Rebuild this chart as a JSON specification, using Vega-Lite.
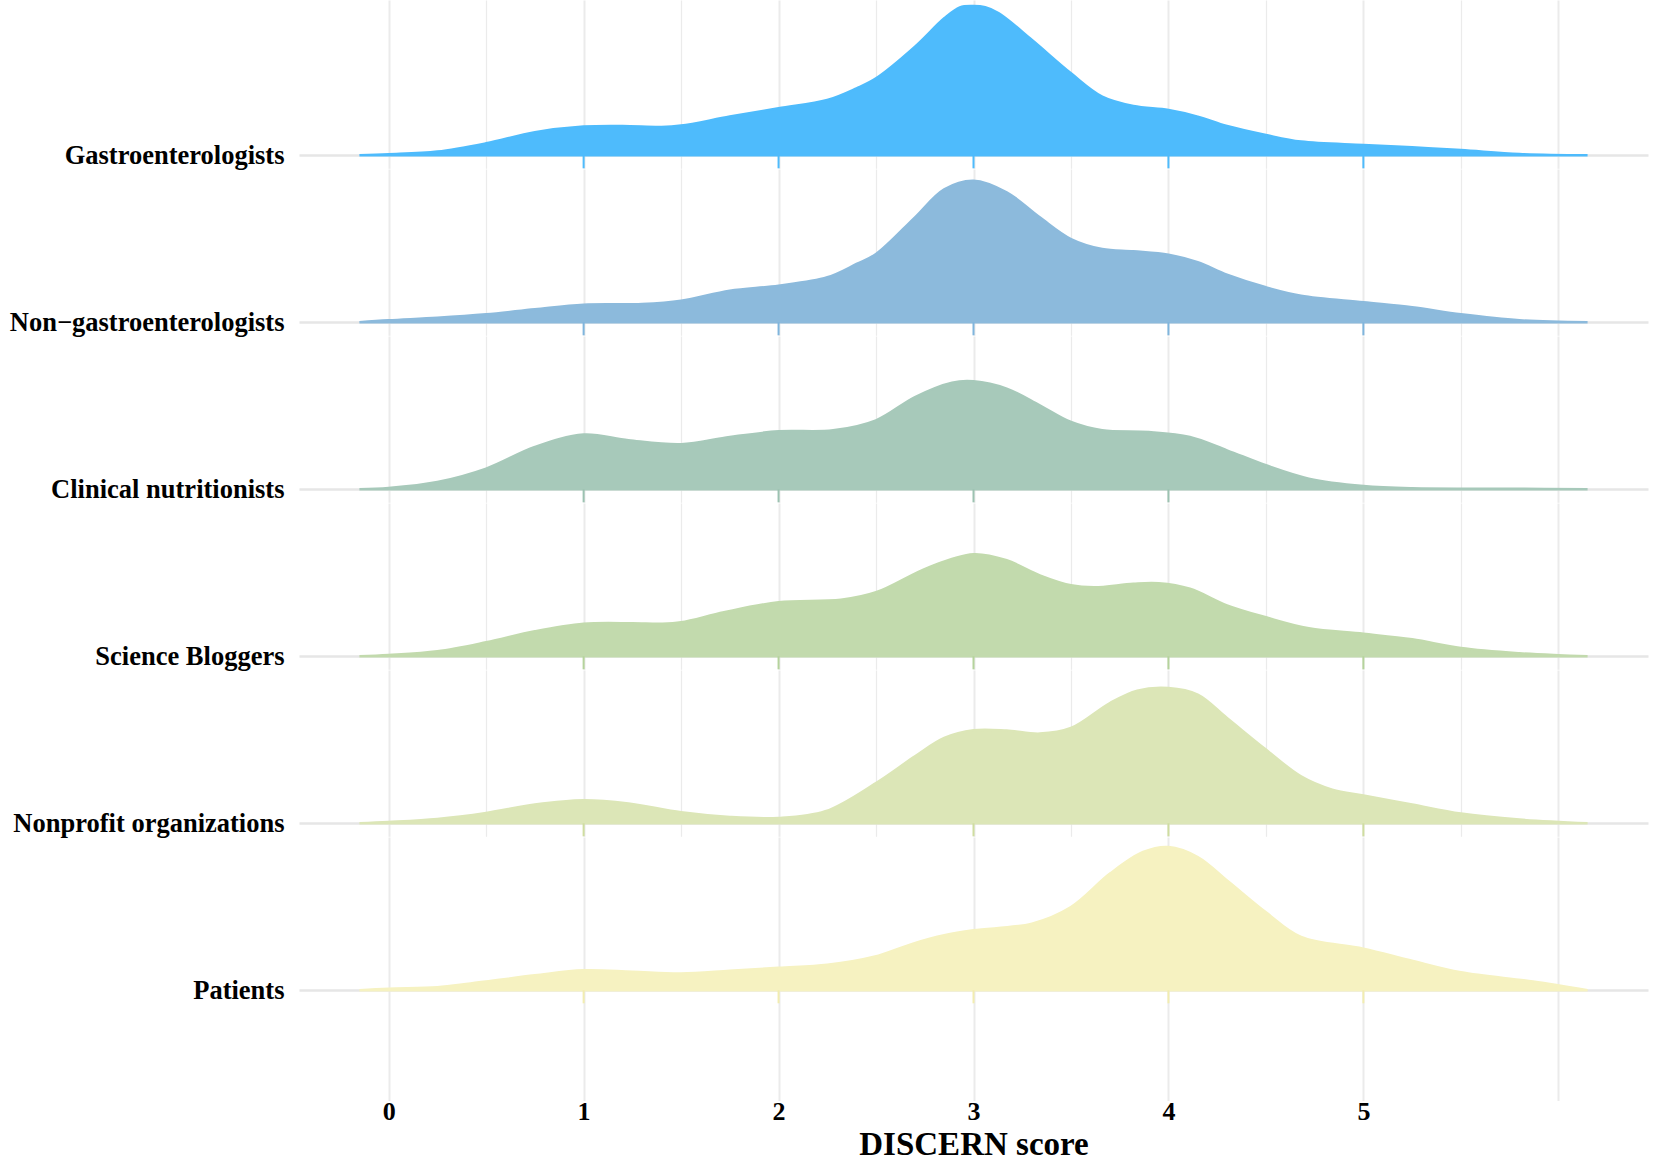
{
  "$schema": "https://vega.github.io/schema/vega-lite/v6.json",
  "padding": {"left": 9, "top": 0, "right": 6, "bottom": 2},
  "spacing": 0,
  "bounds": "flush",
  "config": {
    "view": {"stroke": null},
    "axis": {"labelFont": "Liberation Serif", "labelFontWeight": "bold", "labelColor": "#000000", "titleFont": "Liberation Serif", "titleFontWeight": "bold", "titleColor": "#000000", "domain": false, "ticks": false, "gridColor": "#EBEBEB"},
    "axisX": {"gridWidth": {"condition": {"test": "datum.value % 1 === 0", "value": 2}, "value": 1.2}, "labelFontSize": 26, "titleFontSize": 33, "labelPadding": -2, "titlePadding": 4},
    "axisY": {"gridWidth": 2.5, "gridColor": "#E6E6E6", "labelFontSize": 26.5, "labelPadding": 15, "labelBaseline": "middle", "labelLimit": 600}
  },
  "datasets": {
    "dens": [
      {"group": "Gastroenterologists", "score": -0.15, "density": 0},
      {"group": "Gastroenterologists", "score": 0, "density": 0.01},
      {"group": "Gastroenterologists", "score": 0.25, "density": 0.037},
      {"group": "Gastroenterologists", "score": 0.5, "density": 0.12},
      {"group": "Gastroenterologists", "score": 0.75, "density": 0.23},
      {"group": "Gastroenterologists", "score": 1.0, "density": 0.287},
      {"group": "Gastroenterologists", "score": 1.2, "density": 0.293},
      {"group": "Gastroenterologists", "score": 1.4, "density": 0.283},
      {"group": "Gastroenterologists", "score": 1.5, "density": 0.297},
      {"group": "Gastroenterologists", "score": 1.75, "density": 0.387},
      {"group": "Gastroenterologists", "score": 2.0, "density": 0.47},
      {"group": "Gastroenterologists", "score": 2.25, "density": 0.553},
      {"group": "Gastroenterologists", "score": 2.4, "density": 0.67},
      {"group": "Gastroenterologists", "score": 2.5, "density": 0.77},
      {"group": "Gastroenterologists", "score": 2.7, "density": 1.087},
      {"group": "Gastroenterologists", "score": 2.85, "density": 1.37},
      {"group": "Gastroenterologists", "score": 2.93, "density": 1.48},
      {"group": "Gastroenterologists", "score": 3.0, "density": 1.493},
      {"group": "Gastroenterologists", "score": 3.06, "density": 1.48},
      {"group": "Gastroenterologists", "score": 3.13, "density": 1.42},
      {"group": "Gastroenterologists", "score": 3.3, "density": 1.153},
      {"group": "Gastroenterologists", "score": 3.5, "density": 0.82},
      {"group": "Gastroenterologists", "score": 3.66, "density": 0.587},
      {"group": "Gastroenterologists", "score": 3.82, "density": 0.493},
      {"group": "Gastroenterologists", "score": 4.0, "density": 0.453},
      {"group": "Gastroenterologists", "score": 4.15, "density": 0.387},
      {"group": "Gastroenterologists", "score": 4.3, "density": 0.293},
      {"group": "Gastroenterologists", "score": 4.5, "density": 0.203},
      {"group": "Gastroenterologists", "score": 4.68, "density": 0.137},
      {"group": "Gastroenterologists", "score": 5.0, "density": 0.103},
      {"group": "Gastroenterologists", "score": 5.25, "density": 0.08},
      {"group": "Gastroenterologists", "score": 5.5, "density": 0.053},
      {"group": "Gastroenterologists", "score": 5.8, "density": 0.013},
      {"group": "Gastroenterologists", "score": 6.15, "density": 0},

      {"group": "Non−gastroenterologists", "score": -0.15, "density": 0},
      {"group": "Non−gastroenterologists", "score": 0, "density": 0.02},
      {"group": "Non−gastroenterologists", "score": 0.25, "density": 0.045},
      {"group": "Non−gastroenterologists", "score": 0.5, "density": 0.08},
      {"group": "Non−gastroenterologists", "score": 0.75, "density": 0.13},
      {"group": "Non−gastroenterologists", "score": 1.0, "density": 0.176},
      {"group": "Non−gastroenterologists", "score": 1.3, "density": 0.183},
      {"group": "Non−gastroenterologists", "score": 1.5, "density": 0.216},
      {"group": "Non−gastroenterologists", "score": 1.75, "density": 0.316},
      {"group": "Non−gastroenterologists", "score": 2.0, "density": 0.366},
      {"group": "Non−gastroenterologists", "score": 2.25, "density": 0.45},
      {"group": "Non−gastroenterologists", "score": 2.4, "density": 0.583},
      {"group": "Non−gastroenterologists", "score": 2.5, "density": 0.683},
      {"group": "Non−gastroenterologists", "score": 2.7, "density": 1.05},
      {"group": "Non−gastroenterologists", "score": 2.85, "density": 1.33},
      {"group": "Non−gastroenterologists", "score": 3.0, "density": 1.416},
      {"group": "Non−gastroenterologists", "score": 3.17, "density": 1.3},
      {"group": "Non−gastroenterologists", "score": 3.34, "density": 1.05},
      {"group": "Non−gastroenterologists", "score": 3.5, "density": 0.833},
      {"group": "Non−gastroenterologists", "score": 3.66, "density": 0.733},
      {"group": "Non−gastroenterologists", "score": 3.82, "density": 0.71},
      {"group": "Non−gastroenterologists", "score": 4.0, "density": 0.676},
      {"group": "Non−gastroenterologists", "score": 4.15, "density": 0.6},
      {"group": "Non−gastroenterologists", "score": 4.3, "density": 0.476},
      {"group": "Non−gastroenterologists", "score": 4.5, "density": 0.35},
      {"group": "Non−gastroenterologists", "score": 4.68, "density": 0.266},
      {"group": "Non−gastroenterologists", "score": 5.0, "density": 0.2},
      {"group": "Non−gastroenterologists", "score": 5.25, "density": 0.15},
      {"group": "Non−gastroenterologists", "score": 5.5, "density": 0.08},
      {"group": "Non−gastroenterologists", "score": 5.8, "density": 0.02},
      {"group": "Non−gastroenterologists", "score": 6.15, "density": 0},

      {"group": "Clinical nutritionists", "score": -0.15, "density": 0},
      {"group": "Clinical nutritionists", "score": 0, "density": 0.013},
      {"group": "Clinical nutritionists", "score": 0.25, "density": 0.073},
      {"group": "Clinical nutritionists", "score": 0.5, "density": 0.207},
      {"group": "Clinical nutritionists", "score": 0.75, "density": 0.423},
      {"group": "Clinical nutritionists", "score": 1.0, "density": 0.547},
      {"group": "Clinical nutritionists", "score": 1.23, "density": 0.49},
      {"group": "Clinical nutritionists", "score": 1.5, "density": 0.45},
      {"group": "Clinical nutritionists", "score": 1.75, "density": 0.523},
      {"group": "Clinical nutritionists", "score": 2.0, "density": 0.58},
      {"group": "Clinical nutritionists", "score": 2.28, "density": 0.59},
      {"group": "Clinical nutritionists", "score": 2.5, "density": 0.69},
      {"group": "Clinical nutritionists", "score": 2.7, "density": 0.923},
      {"group": "Clinical nutritionists", "score": 2.89, "density": 1.067},
      {"group": "Clinical nutritionists", "score": 3.0, "density": 1.08},
      {"group": "Clinical nutritionists", "score": 3.17, "density": 1.007},
      {"group": "Clinical nutritionists", "score": 3.34, "density": 0.84},
      {"group": "Clinical nutritionists", "score": 3.5, "density": 0.673},
      {"group": "Clinical nutritionists", "score": 3.66, "density": 0.59},
      {"group": "Clinical nutritionists", "score": 3.9, "density": 0.573},
      {"group": "Clinical nutritionists", "score": 4.11, "density": 0.523},
      {"group": "Clinical nutritionists", "score": 4.3, "density": 0.39},
      {"group": "Clinical nutritionists", "score": 4.5, "density": 0.24},
      {"group": "Clinical nutritionists", "score": 4.72, "density": 0.107},
      {"group": "Clinical nutritionists", "score": 5.0, "density": 0.033},
      {"group": "Clinical nutritionists", "score": 5.25, "density": 0.01},
      {"group": "Clinical nutritionists", "score": 5.8, "density": 0.006},
      {"group": "Clinical nutritionists", "score": 6.15, "density": 0},

      {"group": "Science Bloggers", "score": -0.15, "density": 0},
      {"group": "Science Bloggers", "score": 0, "density": 0.013},
      {"group": "Science Bloggers", "score": 0.25, "density": 0.05},
      {"group": "Science Bloggers", "score": 0.5, "density": 0.14},
      {"group": "Science Bloggers", "score": 0.75, "density": 0.25},
      {"group": "Science Bloggers", "score": 1.0, "density": 0.325},
      {"group": "Science Bloggers", "score": 1.25, "density": 0.33},
      {"group": "Science Bloggers", "score": 1.4, "density": 0.325},
      {"group": "Science Bloggers", "score": 1.5, "density": 0.34},
      {"group": "Science Bloggers", "score": 1.72, "density": 0.44},
      {"group": "Science Bloggers", "score": 2.0, "density": 0.54},
      {"group": "Science Bloggers", "score": 2.32, "density": 0.565},
      {"group": "Science Bloggers", "score": 2.5, "density": 0.64},
      {"group": "Science Bloggers", "score": 2.77, "density": 0.89},
      {"group": "Science Bloggers", "score": 3.0, "density": 1.02},
      {"group": "Science Bloggers", "score": 3.17, "density": 0.96},
      {"group": "Science Bloggers", "score": 3.34, "density": 0.81},
      {"group": "Science Bloggers", "score": 3.5, "density": 0.71},
      {"group": "Science Bloggers", "score": 3.62, "density": 0.69},
      {"group": "Science Bloggers", "score": 3.82, "density": 0.725},
      {"group": "Science Bloggers", "score": 3.95, "density": 0.73},
      {"group": "Science Bloggers", "score": 4.11, "density": 0.675},
      {"group": "Science Bloggers", "score": 4.3, "density": 0.51},
      {"group": "Science Bloggers", "score": 4.5, "density": 0.39},
      {"group": "Science Bloggers", "score": 4.72, "density": 0.28},
      {"group": "Science Bloggers", "score": 5.0, "density": 0.225},
      {"group": "Science Bloggers", "score": 5.25, "density": 0.17},
      {"group": "Science Bloggers", "score": 5.5, "density": 0.083},
      {"group": "Science Bloggers", "score": 5.8, "density": 0.03},
      {"group": "Science Bloggers", "score": 6.0, "density": 0.01},
      {"group": "Science Bloggers", "score": 6.15, "density": 0},

      {"group": "Nonprofit organizations", "score": -0.15, "density": 0},
      {"group": "Nonprofit organizations", "score": 0, "density": 0.013},
      {"group": "Nonprofit organizations", "score": 0.25, "density": 0.043},
      {"group": "Nonprofit organizations", "score": 0.5, "density": 0.103},
      {"group": "Nonprofit organizations", "score": 0.75, "density": 0.187},
      {"group": "Nonprofit organizations", "score": 1.0, "density": 0.23},
      {"group": "Nonprofit organizations", "score": 1.23, "density": 0.197},
      {"group": "Nonprofit organizations", "score": 1.5, "density": 0.11},
      {"group": "Nonprofit organizations", "score": 1.75, "density": 0.063},
      {"group": "Nonprofit organizations", "score": 2.0, "density": 0.053},
      {"group": "Nonprofit organizations", "score": 2.24, "density": 0.12},
      {"group": "Nonprofit organizations", "score": 2.5, "density": 0.403},
      {"group": "Nonprofit organizations", "score": 2.7, "density": 0.67},
      {"group": "Nonprofit organizations", "score": 2.85, "density": 0.853},
      {"group": "Nonprofit organizations", "score": 3.0, "density": 0.93},
      {"group": "Nonprofit organizations", "score": 3.17, "density": 0.927},
      {"group": "Nonprofit organizations", "score": 3.34, "density": 0.897},
      {"group": "Nonprofit organizations", "score": 3.5, "density": 0.953},
      {"group": "Nonprofit organizations", "score": 3.7, "density": 1.203},
      {"group": "Nonprofit organizations", "score": 3.84, "density": 1.327},
      {"group": "Nonprofit organizations", "score": 4.0, "density": 1.353},
      {"group": "Nonprofit organizations", "score": 4.15, "density": 1.287},
      {"group": "Nonprofit organizations", "score": 4.3, "density": 1.053},
      {"group": "Nonprofit organizations", "score": 4.5, "density": 0.737},
      {"group": "Nonprofit organizations", "score": 4.68, "density": 0.47},
      {"group": "Nonprofit organizations", "score": 4.84, "density": 0.337},
      {"group": "Nonprofit organizations", "score": 5.0, "density": 0.277},
      {"group": "Nonprofit organizations", "score": 5.25, "density": 0.187},
      {"group": "Nonprofit organizations", "score": 5.5, "density": 0.097},
      {"group": "Nonprofit organizations", "score": 5.8, "density": 0.037},
      {"group": "Nonprofit organizations", "score": 6.15, "density": 0},

      {"group": "Patients", "score": -0.15, "density": 0},
      {"group": "Patients", "score": 0, "density": 0.015},
      {"group": "Patients", "score": 0.25, "density": 0.03},
      {"group": "Patients", "score": 0.42, "density": 0.068},
      {"group": "Patients", "score": 0.75, "density": 0.15},
      {"group": "Patients", "score": 1.0, "density": 0.2},
      {"group": "Patients", "score": 1.25, "density": 0.185},
      {"group": "Patients", "score": 1.5, "density": 0.168},
      {"group": "Patients", "score": 1.75, "density": 0.195},
      {"group": "Patients", "score": 2.0, "density": 0.225},
      {"group": "Patients", "score": 2.25, "density": 0.255},
      {"group": "Patients", "score": 2.49, "density": 0.335},
      {"group": "Patients", "score": 2.69, "density": 0.467},
      {"group": "Patients", "score": 2.85, "density": 0.55},
      {"group": "Patients", "score": 3.0, "density": 0.6},
      {"group": "Patients", "score": 3.3, "density": 0.667},
      {"group": "Patients", "score": 3.5, "density": 0.833},
      {"group": "Patients", "score": 3.7, "density": 1.167},
      {"group": "Patients", "score": 3.87, "density": 1.383},
      {"group": "Patients", "score": 4.0, "density": 1.433},
      {"group": "Patients", "score": 4.15, "density": 1.333},
      {"group": "Patients", "score": 4.31, "density": 1.083},
      {"group": "Patients", "score": 4.5, "density": 0.78},
      {"group": "Patients", "score": 4.68, "density": 0.533},
      {"group": "Patients", "score": 5.0, "density": 0.417},
      {"group": "Patients", "score": 5.24, "density": 0.3},
      {"group": "Patients", "score": 5.5, "density": 0.18},
      {"group": "Patients", "score": 5.87, "density": 0.088},
      {"group": "Patients", "score": 6.15, "density": 0}
    ],
    "rug": [
      {"group": "Gastroenterologists", "score": 1}, {"group": "Gastroenterologists", "score": 2}, {"group": "Gastroenterologists", "score": 3}, {"group": "Gastroenterologists", "score": 4}, {"group": "Gastroenterologists", "score": 5},
      {"group": "Non−gastroenterologists", "score": 1}, {"group": "Non−gastroenterologists", "score": 2}, {"group": "Non−gastroenterologists", "score": 3}, {"group": "Non−gastroenterologists", "score": 4}, {"group": "Non−gastroenterologists", "score": 5},
      {"group": "Clinical nutritionists", "score": 1}, {"group": "Clinical nutritionists", "score": 2}, {"group": "Clinical nutritionists", "score": 3}, {"group": "Clinical nutritionists", "score": 4},
      {"group": "Science Bloggers", "score": 1}, {"group": "Science Bloggers", "score": 2}, {"group": "Science Bloggers", "score": 3}, {"group": "Science Bloggers", "score": 4}, {"group": "Science Bloggers", "score": 5},
      {"group": "Nonprofit organizations", "score": 1}, {"group": "Nonprofit organizations", "score": 3}, {"group": "Nonprofit organizations", "score": 4}, {"group": "Nonprofit organizations", "score": 5},
      {"group": "Patients", "score": 1}, {"group": "Patients", "score": 2}, {"group": "Patients", "score": 3}, {"group": "Patients", "score": 4}, {"group": "Patients", "score": 5}
    ]
  },
  "vconcat": [
    {
      "width": 1349, "height": 168.3,
      "layer": [
        {"data": {"name": "dens"}, "transform": [{"filter": "datum.group === 'Gastroenterologists'"}],
         "mark": {"type": "area", "color": "#4EBBFC", "stroke": "#4EBBFC", "strokeWidth": 2.5, "opacity": 1, "interpolate": "catmull-rom"},
         "encoding": {
           "x": {"field": "score", "type": "quantitative", "scale": {"domain": [-0.46, 6.46], "nice": false, "zero": false}, "axis": {"values": [0,0.5,1,1.5,2,2.5,3,3.5,4,4.5,5,5.5,6], "labels": false, "title": null, "labelPadding": 0, "titlePadding": 0}},
           "y": {"field": "density", "type": "quantitative", "scale": {"domain": [-0.13, 1.553], "nice": false, "zero": false}, "axis": {"values": [0], "labelExpr": "'Gastroenterologists'", "title": null}},
           "y2": {"datum": 0}}},
        {"data": {"name": "rug"}, "transform": [{"filter": "datum.group === 'Gastroenterologists'"}],
         "mark": {"type": "rule", "color": "#4EBBFC", "strokeWidth": 2},
         "encoding": {"x": {"field": "score", "type": "quantitative"}, "y": {"datum": 0}, "y2": {"datum": -0.13}}}
      ]
    },
    {
      "width": 1349, "height": 166.3,
      "layer": [
        {"data": {"name": "dens"}, "transform": [{"filter": "datum.group === 'Non−gastroenterologists'"}],
         "mark": {"type": "area", "color": "#8CBADC", "stroke": "#8CBADC", "strokeWidth": 2.5, "opacity": 1, "interpolate": "catmull-rom"},
         "encoding": {
           "x": {"field": "score", "type": "quantitative", "scale": {"domain": [-0.46, 6.46], "nice": false, "zero": false}, "axis": {"values": [0,0.5,1,1.5,2,2.5,3,3.5,4,4.5,5,5.5,6], "labels": false, "title": null, "labelPadding": 0, "titlePadding": 0}},
           "y": {"field": "density", "type": "quantitative", "scale": {"domain": [-0.13, 1.533], "nice": false, "zero": false}, "axis": {"values": [0], "labelExpr": "'Non−gastroenterologists'", "title": null}},
           "y2": {"datum": 0}}},
        {"data": {"name": "rug"}, "transform": [{"filter": "datum.group === 'Non−gastroenterologists'"}],
         "mark": {"type": "rule", "color": "#7FB5DD", "strokeWidth": 2},
         "encoding": {"x": {"field": "score", "type": "quantitative"}, "y": {"datum": 0}, "y2": {"datum": -0.13}}}
      ]
    },
    {
      "width": 1349, "height": 166.3,
      "layer": [
        {"data": {"name": "dens"}, "transform": [{"filter": "datum.group === 'Clinical nutritionists'"}],
         "mark": {"type": "area", "color": "#A7C9BA", "stroke": "#A7C9BA", "strokeWidth": 2.5, "opacity": 1, "interpolate": "catmull-rom"},
         "encoding": {
           "x": {"field": "score", "type": "quantitative", "scale": {"domain": [-0.46, 6.46], "nice": false, "zero": false}, "axis": {"values": [0,0.5,1,1.5,2,2.5,3,3.5,4,4.5,5,5.5,6], "labels": false, "title": null, "labelPadding": 0, "titlePadding": 0}},
           "y": {"field": "density", "type": "quantitative", "scale": {"domain": [-0.13, 1.533], "nice": false, "zero": false}, "axis": {"values": [0], "labelExpr": "'Clinical nutritionists'", "title": null}},
           "y2": {"datum": 0}}},
        {"data": {"name": "rug"}, "transform": [{"filter": "datum.group === 'Clinical nutritionists'"}],
         "mark": {"type": "rule", "color": "#9CC2B1", "strokeWidth": 2},
         "encoding": {"x": {"field": "score", "type": "quantitative"}, "y": {"datum": 0}, "y2": {"datum": -0.13}}}
      ]
    },
    {
      "width": 1349, "height": 166.3,
      "layer": [
        {"data": {"name": "dens"}, "transform": [{"filter": "datum.group === 'Science Bloggers'"}],
         "mark": {"type": "area", "color": "#C2DAAD", "stroke": "#C2DAAD", "strokeWidth": 2.5, "opacity": 1, "interpolate": "catmull-rom"},
         "encoding": {
           "x": {"field": "score", "type": "quantitative", "scale": {"domain": [-0.46, 6.46], "nice": false, "zero": false}, "axis": {"values": [0,0.5,1,1.5,2,2.5,3,3.5,4,4.5,5,5.5,6], "labels": false, "title": null, "labelPadding": 0, "titlePadding": 0}},
           "y": {"field": "density", "type": "quantitative", "scale": {"domain": [-0.13, 1.533], "nice": false, "zero": false}, "axis": {"values": [0], "labelExpr": "'Science Bloggers'", "title": null}},
           "y2": {"datum": 0}}},
        {"data": {"name": "rug"}, "transform": [{"filter": "datum.group === 'Science Bloggers'"}],
         "mark": {"type": "rule", "color": "#B5D39C", "strokeWidth": 2},
         "encoding": {"x": {"field": "score", "type": "quantitative"}, "y": {"datum": 0}, "y2": {"datum": -0.13}}}
      ]
    },
    {
      "width": 1349, "height": 166.3,
      "layer": [
        {"data": {"name": "dens"}, "transform": [{"filter": "datum.group === 'Nonprofit organizations'"}],
         "mark": {"type": "area", "color": "#DCE6B7", "stroke": "#DCE6B7", "strokeWidth": 2.5, "opacity": 1, "interpolate": "catmull-rom"},
         "encoding": {
           "x": {"field": "score", "type": "quantitative", "scale": {"domain": [-0.46, 6.46], "nice": false, "zero": false}, "axis": {"values": [0,0.5,1,1.5,2,2.5,3,3.5,4,4.5,5,5.5,6], "labels": false, "title": null, "labelPadding": 0, "titlePadding": 0}},
           "y": {"field": "density", "type": "quantitative", "scale": {"domain": [-0.13, 1.533], "nice": false, "zero": false}, "axis": {"values": [0], "labelExpr": "'Nonprofit organizations'", "title": null}},
           "y2": {"datum": 0}}},
        {"data": {"name": "rug"}, "transform": [{"filter": "datum.group === 'Nonprofit organizations'"}],
         "mark": {"type": "rule", "color": "#CFDDA0", "strokeWidth": 2},
         "encoding": {"x": {"field": "score", "type": "quantitative"}, "y": {"datum": 0}, "y2": {"datum": -0.13}}}
      ]
    },
    {
      "width": 1349, "height": 263.5,
      "layer": [
        {"data": {"name": "dens"}, "transform": [{"filter": "datum.group === 'Patients'"}],
         "mark": {"type": "area", "color": "#F6F2C1", "stroke": "#F6F2C1", "strokeWidth": 2.5, "opacity": 1, "interpolate": "catmull-rom"},
         "encoding": {
           "x": {"field": "score", "type": "quantitative", "scale": {"domain": [-0.46, 6.46], "nice": false, "zero": false}, "axis": {"values": [0,0.5,1,1.5,2,2.5,3,3.5,4,4.5,5,5.5,6], "format": "d", "labelExpr": "datum.value % 1 === 0 && datum.value <= 5 ? datum.label : ''", "title": "DISCERN score"}},
           "y": {"field": "density", "type": "quantitative", "scale": {"domain": [-1.102, 1.533], "nice": false, "zero": false}, "axis": {"values": [0], "labelExpr": "'Patients'", "title": null}},
           "y2": {"datum": 0}}},
        {"data": {"name": "rug"}, "transform": [{"filter": "datum.group === 'Patients'"}],
         "mark": {"type": "rule", "color": "#F2EDB0", "strokeWidth": 2},
         "encoding": {"x": {"field": "score", "type": "quantitative"}, "y": {"datum": 0}, "y2": {"datum": -0.13}}}
      ]
    }
  ]
}
